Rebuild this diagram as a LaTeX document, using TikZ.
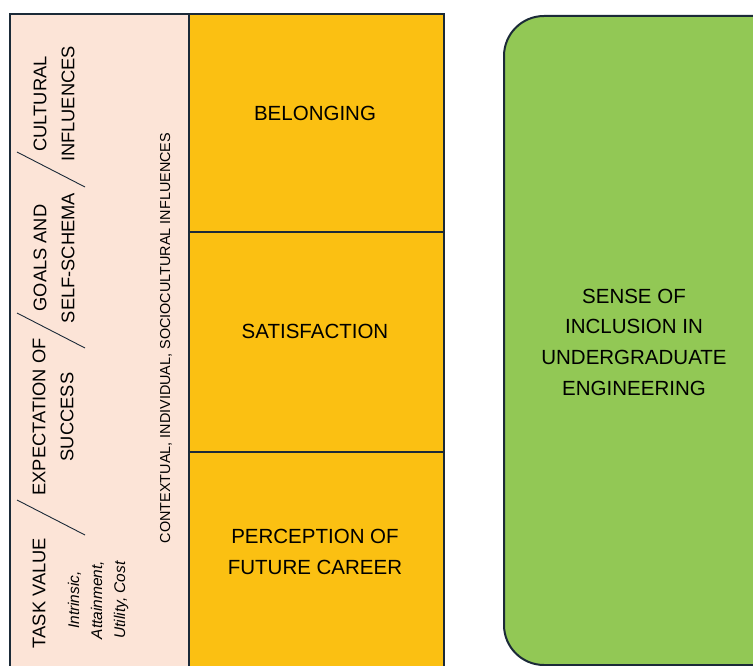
\documentclass[tikz,border=0pt]{standalone}
\usepackage{fontspec}
\setmainfont{Liberation Sans}
\definecolor{edge}{HTML}{1B2A38}
\definecolor{pinkfill}{HTML}{FCE4D7}
\definecolor{yellowfill}{HTML}{FBC012}
\definecolor{greenfill}{HTML}{92C855}
\tikzset{
  ctxbox/.style={draw=edge, line width=1.6pt, fill=pinkfill, anchor=north west, inner sep=0pt},
  ybox/.style={draw=edge, line width=2pt, fill=yellowfill, anchor=north west, inner sep=0pt},
  gbox/.style={draw=edge, line width=2pt, fill=greenfill, rounded corners=40pt, anchor=north west, inner sep=0pt},
  bigtxt/.style={align=center, font=\fontsize{20.5}{30.7}\selectfont, text=black},
  coltxt/.style={rotate=90, align=center, font=\fontsize{18.3}{28}\selectfont, text=black},
  itxt/.style={rotate=90, align=center, font=\fontsize{15.5}{23}\selectfont\itshape, text=black},
  ctxtxt/.style={rotate=90, font=\fontsize{14.4}{17}\selectfont, text=black},
  slash/.style={draw=edge, line width=0.9pt}
}
\begin{document}
\begin{tikzpicture}[x=1pt,y=-1pt]
\useasboundingbox (0,0) rectangle (753,666);
\clip (0,0) rectangle (753,666);
% left context column
\node[ctxbox, minimum width=179pt, minimum height=680pt] (ctx) at (9,13) {};
% yellow boxes
\node[ybox, minimum width=255pt, minimum height=218pt] (bel) at (188,13) {};
\node[ybox, minimum width=255pt, minimum height=220pt] (sat) at (188,231) {};
\node[ybox, minimum width=255pt, minimum height=230pt] (per) at (188,451) {};
% green box
\node[gbox, minimum width=300pt, minimum height=649pt] (inc) at (503,15) {};
% yellow labels
\node[bigtxt] (belt) at (315,113) {BELONGING};
\node[bigtxt] (satt) at (315,331) {SATISFACTION};
\node[bigtxt] (pert) at (315,552) {PERCEPTION OF\\FUTURE CAREER};
% green label
\node[bigtxt] (inct) at (634,342) {SENSE OF\\INCLUSION IN\\UNDERGRADUATE\\ENGINEERING};
% left column labels
\node[coltxt] (tv) at (39,593) {TASK VALUE};
\node[itxt] (tvi) at (98,600) {Intrinsic,\\Attainment,\\Utility, Cost};
\node[coltxt] (exp) at (53,417) {EXPECTATION OF\\SUCCESS};
\node[coltxt] (goal) at (54,258) {GOALS AND\\SELF-SCHEMA};
\node[coltxt] (cult) at (54,104) {CULTURAL\\INFLUENCES};
\node[ctxtxt] (ctxt) at (166,338) {CONTEXTUAL, INDIVIDUAL, SOCIOCULTURAL INFLUENCES};
% separators
\coordinate (s1a) at (17,500); \coordinate (s1b) at (85,535);
\coordinate (s2a) at (17,313); \coordinate (s2b) at (85,348);
\coordinate (s3a) at (17,152); \coordinate (s3b) at (85,187);
\draw[slash] (s1a) -- (s1b);
\draw[slash] (s2a) -- (s2b);
\draw[slash] (s3a) -- (s3b);
\end{tikzpicture}
\end{document}
